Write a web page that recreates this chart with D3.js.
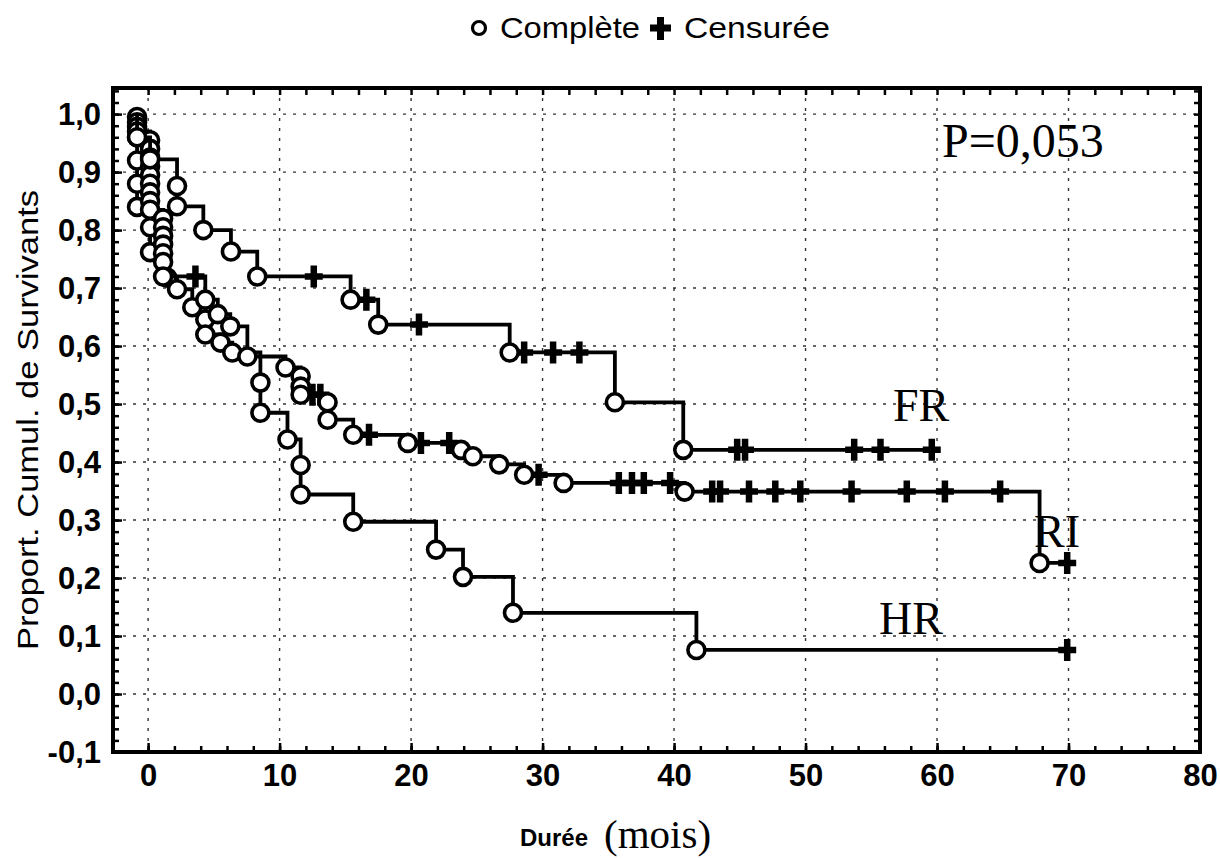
<!DOCTYPE html>
<html><head><meta charset="utf-8">
<script src="https://cdn.jsdelivr.net/npm/d3@7"></script>
<style>body{margin:0;background:#fff}</style>
</head><body>
<svg id="c" width="1220" height="858"></svg>
<script>
// ---- data ----
const xTicks = [0,10,20,30,40,50,60,70,80];
const xTickLabels = ["0","10","20","30","40","50","60","70","80"];
const yTicks = [-0.1,0,0.1,0.2,0.3,0.4,0.5,0.6,0.7,0.8,0.9,1.0];
const yTickLabels = ["-0,1","0,0","0,1","0,2","0,3","0,4","0,5","0,6","0,7","0,8","0,9","1,0"];
const groupNames = ["FR","RI","HR"];

// FR : time, survival after event, kind (c = complète, x = censurée)
const frTime = [-0.84,0.15,2.2,2.2,4.2,6.3,8.3,12.6,15.4,16.6,17.5,20.6,27.5,28.6,30.8,32.8,35.5,40.7,44.8,45.4,53.7,55.7,59.6];
const frSurv = [0.96,0.922,0.876,0.841,0.80,0.763,0.72,0.72,0.68,0.68,0.637,0.637,0.589,0.589,0.589,0.589,0.503,0.421,0.421,0.421,0.421,0.421,0.421];
const frKind = ["c","c","c","c","c","c","c","x","c","x","c","x","c","x","x","x","c","c","x","x","x","x","x"];

// RI
const riTime = [-0.84,-0.84,-0.84,-0.84,0.15,0.15,0.15,0.15,0.15,0.15,0.15,0.15,0.15,1.14,1.14,1.14,1.14,1.14,1.14,1.14,3.6,4.35,5.3,6.25,7.55,10.45,11.6,11.6,11.6,12.5,13.1,13.65,13.65,15.6,16.8,19.75,20.75,22.9,23.8,24.7,26.7,28.6,29.7,31.6,35.8,36.8,37.7,39.7,40.8,42.9,43.5,45.7,47.7,49.6,53.5,57.7,60.6,64.8,67.8,69.9];
const riSurv = [0.995,0.986,0.978,0.97,0.955,0.94,0.925,0.91,0.895,0.88,0.865,0.85,0.835,0.82,0.805,0.79,0.775,0.76,0.745,0.72,0.72,0.68,0.655,0.634,0.582,0.563,0.548,0.53,0.516,0.516,0.516,0.503,0.473,0.447,0.447,0.433,0.433,0.433,0.421,0.41,0.396,0.378,0.378,0.364,0.364,0.364,0.364,0.364,0.349,0.349,0.349,0.349,0.349,0.349,0.349,0.349,0.349,0.349,0.226,0.226];
const riKind = ["c","c","c","c","c","c","c","c","c","c","c","c","c","c","c","c","c","c","c","c","x","c","c","c","c","c","c","c","c","x","x","c","c","c","x","c","x","x","c","c","c","c","x","c","x","x","x","x","c","x","x","x","x","x","x","x","x","x","c","x"];

// HR
const hrTime = [-0.84,-0.84,-0.84,-0.84,0.15,0.15,1.45,2.2,3.36,4.35,4.35,5.5,6.4,8.54,8.54,10.6,11.6,11.6,15.6,21.9,23.95,27.75,41.7,69.9];
const hrSurv = [0.96,0.92,0.88,0.84,0.805,0.762,0.718,0.698,0.667,0.646,0.62,0.606,0.589,0.537,0.485,0.439,0.395,0.344,0.297,0.249,0.202,0.14,0.076,0.076];
const hrKind = ["c","c","c","c","c","c","c","c","c","c","c","c","c","c","c","c","c","c","c","c","c","c","c","x"];

// ---- drawing ----
const svg = d3.select("#c");
const W = 1220, H = 858;
svg.append("rect").attr("width",W).attr("height",H).attr("fill","#fff");

const L = 113, R = 1200, T = 88, B = 752;
const x = d3.scaleLinear().domain([-2.67, 80]).range([L, R]);
const y = d3.scaleLinear().domain([-0.1, 1.045]).range([B, T]);

// grid
const grid = svg.append("g");
grid.selectAll("line.v").data(xTicks.filter(d => d < 80)).join("line")
  .attr("x1", d => x(d)).attr("x2", d => x(d)).attr("y1", T).attr("y2", B)
  .attr("stroke","#333").attr("stroke-width",1.4).attr("stroke-dasharray","3,7");
grid.selectAll("line.h").data(yTicks.filter(d => d > -0.1)).join("line")
  .attr("y1", d => y(d)).attr("y2", d => y(d)).attr("x1", L).attr("x2", R)
  .attr("stroke","#333").attr("stroke-width",1.4).attr("stroke-dasharray","3,7");

// axes with inward ticks
const xMinor = d3.range(0, 81, 2);
const yMinor = d3.range(-10, 105, 2).map(d => d/100);
const axB = svg.append("g").attr("transform",`translate(0,${B})`)
  .call(d3.axisBottom(x).tickValues(xTicks).tickFormat((d,i)=>xTickLabels[i]).tickSize(-9).tickPadding(12));
const axBm = svg.append("g").attr("transform",`translate(0,${B})`)
  .call(d3.axisBottom(x).tickValues(xMinor).tickFormat("").tickSize(-6));
const axT = svg.append("g").attr("transform",`translate(0,${T})`)
  .call(d3.axisTop(x).tickValues(xMinor).tickFormat("").tickSize(-7));
const axL = svg.append("g").attr("transform",`translate(${L},0)`)
  .call(d3.axisLeft(y).tickValues(yTicks).tickFormat((d,i)=>yTickLabels[i]).tickSize(-9).tickPadding(12));
const axLm = svg.append("g").attr("transform",`translate(${L},0)`)
  .call(d3.axisLeft(y).tickValues(yMinor).tickFormat("").tickSize(-6));
const axR = svg.append("g").attr("transform",`translate(${R},0)`)
  .call(d3.axisRight(y).tickValues(yMinor).tickFormat("").tickSize(-6));
[axB,axBm,axT,axL,axLm,axR].forEach(a => {
  a.select(".domain").remove();
  a.selectAll(".tick line").attr("stroke","#000").attr("stroke-width",2.5);
  a.selectAll("text").attr("fill","#000").attr("font-family","'Liberation Sans', Arial, sans-serif")
    .attr("font-size",31).attr("font-weight","bold");
});
axL.selectAll("text").attr("dy","0.35em");
svg.append("rect").attr("x",L).attr("y",T).attr("width",R-L).attr("height",B-T)
  .attr("fill","none").attr("stroke","#000").attr("stroke-width",4);

// curves
function drawGroup(times, surv, kind) {
  const g = svg.append("g");
  let d = `M${x(times[0])},${y(1)}`;
  times.forEach((t,i) => { d += `H${x(t)}V${y(surv[i])}`; });
  g.append("path").attr("d", d).attr("fill","none").attr("stroke","#000")
    .attr("stroke-width",3.8).attr("stroke-linejoin","miter");
  const pts = times.map((t,i) => ({t, s: surv[i], k: kind[i]}));
  g.selectAll("path.cens").data(pts.filter(p => p.k === "x")).join("path")
    .attr("d", p => { const cx = x(p.t), cy = y(p.s);
      return `M${cx-9},${cy}H${cx+9}M${cx},${cy-11}V${cy+11}`; })
    .attr("stroke","#000").attr("stroke-width",6.5).attr("fill","none");
  g.selectAll("circle").data(pts.filter(p => p.k === "c")).join("circle")
    .attr("cx", p => x(p.t)).attr("cy", p => y(p.s)).attr("r",8.5)
    .attr("fill","#fff").attr("stroke","#000").attr("stroke-width",3.6);
}
drawGroup(hrTime, hrSurv, hrKind);
drawGroup(riTime, riSurv, riKind);
drawGroup(frTime, frSurv, frKind);

// labels
const serif = "'Liberation Serif','Times New Roman',serif";
const sans = "'Liberation Sans', Arial, sans-serif";
svg.append("text").attr("x",942).attr("y",157).attr("font-family",serif).attr("font-size",48).text("P=0,053");
svg.append("text").attr("x",893).attr("y",y(0.47)).attr("font-family",serif).attr("font-size",46).text(groupNames[0]);
svg.append("text").attr("x",1034).attr("y",y(0.253)).attr("font-family",serif).attr("font-size",46).text(groupNames[1]);
svg.append("text").attr("x",879).attr("y",y(0.104)).attr("font-family",serif).attr("font-size",46).text(groupNames[2]);

// legend
svg.append("circle").attr("cx",479).attr("cy",28).attr("r",6.5).attr("fill","#fff").attr("stroke","#000").attr("stroke-width",3.2);
svg.append("text").attr("x",500).attr("y",38).attr("font-family",sans).attr("font-size",29)
  .attr("textLength",140).attr("lengthAdjust","spacingAndGlyphs").text("Complète");
svg.append("path").attr("d","M650,28H671M660.5,17V40").attr("stroke","#000").attr("stroke-width",7);
svg.append("text").attr("x",684).attr("y",38).attr("font-family",sans).attr("font-size",29)
  .attr("textLength",146).attr("lengthAdjust","spacingAndGlyphs").text("Censurée");

// axis titles
svg.append("text").attr("transform","translate(38,420) rotate(-90)").attr("text-anchor","middle")
  .attr("font-family",sans).attr("font-size",29)
  .attr("textLength",460).attr("lengthAdjust","spacingAndGlyphs").text("Proport. Cumul. de Survivants");
svg.append("text").attr("x",520).attr("y",846).attr("font-family",sans).attr("font-size",24).attr("font-weight","bold").text("Durée");
svg.append("text").attr("x",604).attr("y",848).attr("font-family",serif).attr("font-size",41).text("(mois)");
</script>
</body></html>
